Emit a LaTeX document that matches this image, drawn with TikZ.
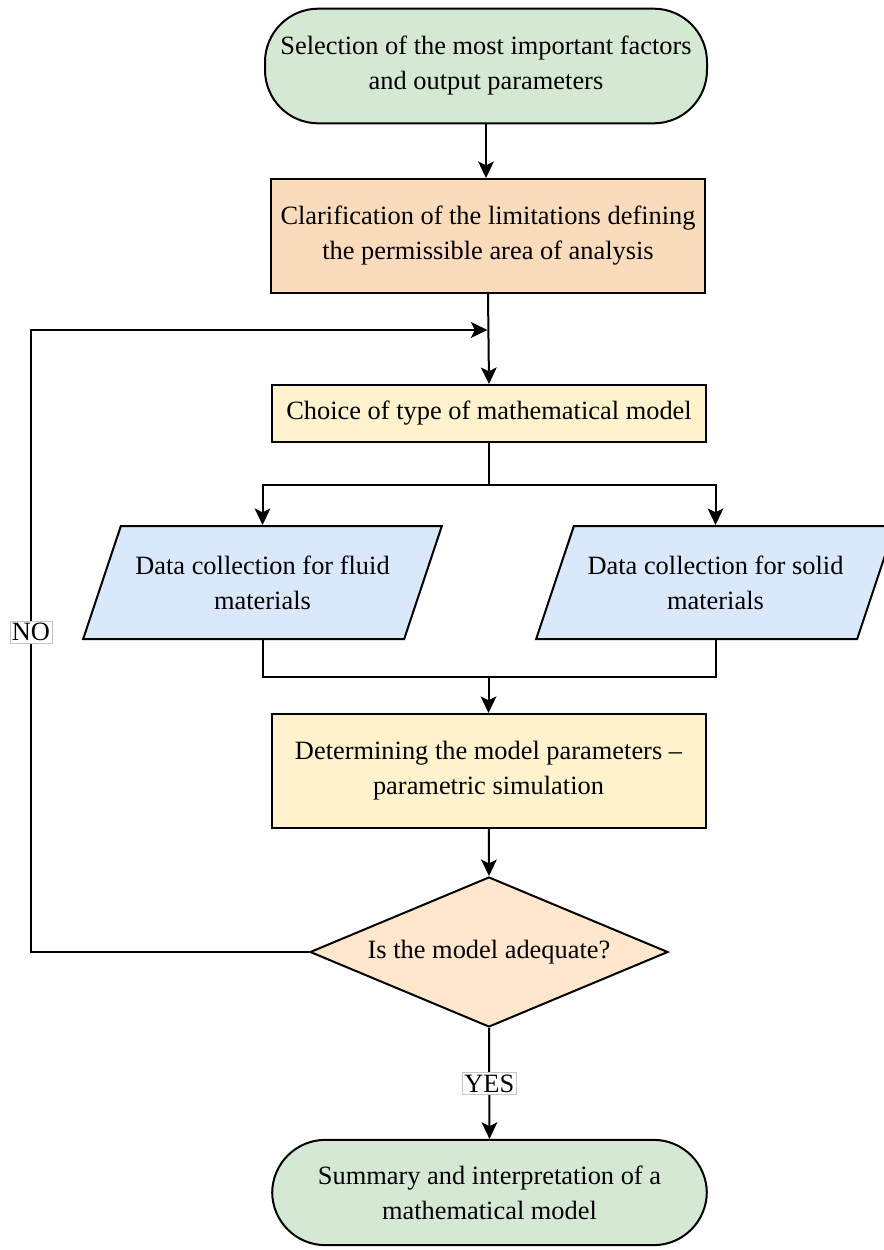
\documentclass[tikz,border=0pt]{standalone}
\usepackage{fontspec}
\setmainfont{Liberation Serif}
\usepackage{tikz}
\usetikzlibrary{arrows.meta}
\usetikzlibrary{shapes.geometric}
\definecolor{termgreen}{HTML}{D5E8D4}
\definecolor{limitpeach}{HTML}{FADBBB}
\definecolor{decpeach}{HTML}{FFE6CC}
\definecolor{boxyellow}{HTML}{FFF2CC}
\definecolor{datablue}{HTML}{DAE8FC}

\begin{document}
\begin{tikzpicture}[x=0.75pt,y=-0.75pt,line width=1.5pt,
	every node/.style={font=\fontsize{19.8}{26.25}\selectfont,align=center},
	terminal/.style={draw,fill=termgreen,rounded corners=40pt,minimum width=331.5pt,minimum height=86pt},
	stepbox/.style={draw,fill=boxyellow,minimum width=325.5pt,minimum height=85.5pt},
	datain/.style={trapezium,trapezium left angle=59,trapezium right angle=121,trapezium stretches body,draw,fill=datablue,minimum width=269pt,minimum height=84.75pt},
	decision/.style={diamond,draw,fill=decpeach,aspect=2.4,inner sep=0pt,minimum width=268.5pt,minimum height=112.5pt},
	lbl/.style={fill=white,draw=gray!45,line width=0.4pt,inner sep=1.5pt},
	arr/.style={-{Stealth[length=12.5pt,width=12pt,inset=3pt,line width=0pt]}}
]
	\useasboundingbox (0,0) rectangle (884,1250);
	\node[terminal] (start) at (486,66) {Selection of the most important factors\\and output parameters};
	\node[stepbox,fill=limitpeach] (limits) at (488,236) {Clarification of the limitations defining\\the permissible area of analysis};
	\node[stepbox,minimum height=42.75pt] (choice) at (489,413.5) {Choice of type of mathematical model};
	\node[datain] (fluid) at (262.5,582.5) {Data collection for fluid\\materials};
	\node[datain] (solid) at (715.5,582.5) {Data collection for solid\\materials};
	\node[stepbox] (param) at (488.5,771) {Determining the model parameters --\\parametric simulation};
	\node[decision] (check) at (489,952) {Is the model adequate?};
	\node[terminal,minimum width=326pt,minimum height=79pt] (finish) at (489.5,1192.5) {Summary and interpretation of a\\mathematical model};
	\coordinate (join) at (487.5,330);
	\coordinate (split) at (489,485);
	\coordinate (merge) at (488.5,677);
	\coordinate (loopx) at (31,0);
	\draw[arr] (start) -- (start.south |- limits.north);
	\draw[arr] (limits.south) -- (choice.north);
	\draw (choice) -- (split);
	\draw[arr] (split) -| (fluid.north);
	\draw[arr] (split) -| (solid.north);
	\draw (fluid.south) |- (merge);
	\draw (solid.south) |- (merge);
	\draw[arr] (merge) -- (param.north);
	\draw[arr] (param) -- (check.north);
	\draw[arr] (check.west) -| node[lbl,pos=0.757] {NO} (loopx |- join) -- (join);
	\draw[arr] (check.south) -- node[lbl] {YES} (finish.north);
\end{tikzpicture}
\end{document}
